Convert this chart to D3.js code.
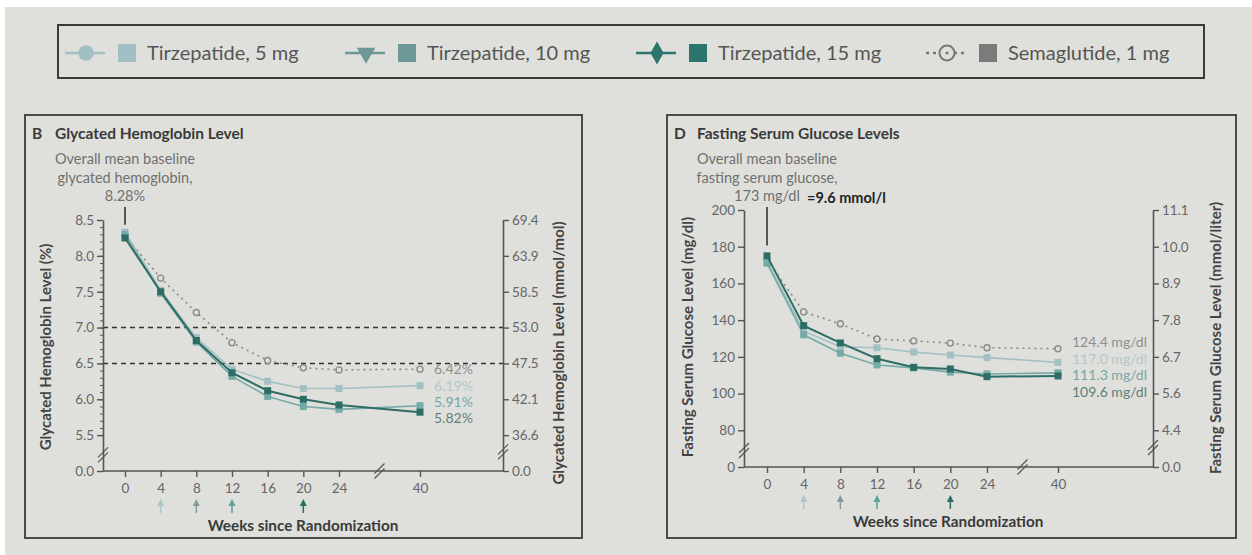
<!DOCTYPE html>
<meta charset="utf-8">
<script src="https://d3js.org/d3.v7.min.js"></script>
<style>
  body { margin: 0; background: #fff; }
  svg text { font-family: Lato, "Open Sans", sans-serif; }
</style>
<body>
<div id="chart"></div>
<script>

// ---- data ----
var weeks = [0, 4, 8, 12, 16, 20, 24, 40];
var seriesNames = ["Tirzepatide, 5 mg", "Tirzepatide, 10 mg", "Tirzepatide, 15 mg", "Semaglutide, 1 mg"];

// glycated hemoglobin (%)
var hba1c5mg  = [8.33, 7.52, 6.86, 6.42, 6.25, 6.15, 6.15, 6.19];
var hba1c10mg = [8.30, 7.48, 6.80, 6.32, 6.04, 5.90, 5.86, 5.91];
var hba1c15mg = [8.25, 7.50, 6.82, 6.37, 6.12, 6.00, 5.92, 5.82];
var hba1cSema = [8.28, 7.69, 7.21, 6.79, 6.54, 6.44, 6.41, 6.42];
var hba1cEndLabels = ["6.19%", "5.91%", "5.82%", "6.42%"];
var hba1cTicks = [5.0, 5.5, 6.0, 6.5, 7.0, 7.5, 8.0, 8.5];
var hba1cTickLabels = ["0.0", "5.5", "6.0", "6.5", "7.0", "7.5", "8.0", "8.5"];
var hba1cMmolLabels = ["0.0", "36.6", "42.1", "47.5", "53.0", "58.5", "63.9", "69.4"];
var hba1cTargets = [7.0, 6.5];

// fasting serum glucose (mg/dl)
var fsg5mg  = [172, 134, 125.5, 125, 122.6, 121, 119.6, 117.0];
var fsg10mg = [171, 132, 122, 115.6, 114, 111.7, 110.7, 111.3];
var fsg15mg = [175, 137, 127.6, 119, 114.3, 113.4, 109.2, 109.6];
var fsgSema = [173, 144.5, 138, 129.7, 128.7, 127.5, 125, 124.4];
var fsgEndLabels = ["117.0 mg/dl", "111.3 mg/dl", "109.6 mg/dl", "124.4 mg/dl"];
var fsgTicks = [60, 80, 100, 120, 140, 160, 180, 200];
var fsgTickLabels = ["0", "80", "100", "120", "140", "160", "180", "200"];
var fsgMmolLabels = ["0.0", "4.4", "5.6", "6.7", "7.8", "8.9", "10.0", "11.1"];

var escalationWeeks = [4, 8, 12, 20];

// ---- styles ----
var bg = "#dfe0dc";
var legendColors = ["#a2c0c4", "#6e9898", "#2c756f", "#7b7b7b"];
var lineColors = ["#a3c1c3", "#74aaa7", "#2e6d66", "#8a8a8a"];
var labelColors = ["#b4c8c9", "#78a6a5", "#5f7f7c", "#8e8e8e"];
var arrowColors = ["#a9c6c8", "#7f9d9c", "#5aa39b", "#2b6d66"];
var axisColor = "#555";
var textColor = "#666";

var svg = d3.select("#chart").append("svg")
  .attr("width", 1252)
  .attr("height", 555);

svg.append("rect")
  .attr("x", 5).attr("y", 7)
  .attr("width", 1247).attr("height", 548)
  .attr("fill", bg);

// ---- legend ----
svg.append("rect")
  .attr("x", 58).attr("y", 25)
  .attr("width", 1146).attr("height", 53)
  .attr("fill", "none")
  .attr("stroke", "#3a3a3a")
  .attr("stroke-width", 2);

var legendX = [65, 345, 636, 926];
var legendY = 53;
var legendSymbols = [d3.symbolCircle, d3.symbolTriangle, d3.symbolDiamond, null];

seriesNames.forEach(function(name, i) {
  var lg = svg.append("g").attr("transform", "translate(" + legendX[i] + "," + legendY + ")");
  lg.append("line")
    .attr("x1", 0).attr("x2", 40)
    .attr("stroke", i === 3 ? "#777" : legendColors[i])
    .attr("stroke-width", 2.5)
    .attr("stroke-dasharray", i === 3 ? "3,4" : null);
  if (i === 3) {
    lg.append("circle").attr("cx", 21).attr("r", 7.5)
      .attr("fill", bg).attr("stroke", "#777").attr("stroke-width", 2);
    lg.append("circle").attr("cx", 21).attr("r", 1.6).attr("fill", "#777");
  } else {
    var sz = i === 0 ? 190 : 150;
    lg.append("path")
      .attr("d", d3.symbol().type(legendSymbols[i]).size(sz))
      .attr("transform", "translate(21,0)" + (i === 1 ? " rotate(180)" : ""))
      .attr("fill", legendColors[i]);
  }
  lg.append("rect")
    .attr("x", 53).attr("y", -9)
    .attr("width", 18).attr("height", 18)
    .attr("fill", legendColors[i]);
  lg.append("text")
    .attr("x", 82).attr("y", 7)
    .attr("font-size", 20)
    .attr("fill", "#555")
    .text(name);
});

// ---- panel drawing ----
function breakMark(g, cx, cy) {
  [-2.5, 2.5].forEach(function(o) {
    g.append("line")
      .attr("x1", cx - 5).attr("y1", cy + 5 + o)
      .attr("x2", cx + 5).attr("y2", cy - 5 + o)
      .attr("stroke", axisColor).attr("stroke-width", 1.3);
  });
}

function styleAxis(a) {
  a.select(".domain").attr("stroke", axisColor).attr("stroke-width", 1.6);
  a.selectAll(".tick line").attr("stroke", axisColor).attr("stroke-width", 1.4);
  a.selectAll(".tick text").attr("fill", textColor).attr("font-size", 13.5)
    .style("font-family", "Lato, 'Open Sans', sans-serif");
}

function drawPanel(p) {
  var g = svg.append("g");

  g.append("rect")
    .attr("x", p.box[0]).attr("y", p.box[1])
    .attr("width", p.box[2] - p.box[0]).attr("height", p.box[3] - p.box[1])
    .attr("fill", "none").attr("stroke", "#4a4a4a").attr("stroke-width", 2);

  g.append("text").attr("x", p.box[0] + 7).attr("y", 139)
    .attr("font-size", 15.5).attr("font-weight", "bold").attr("fill", "#3a3a3a")
    .text(p.letter);
  g.append("text").attr("x", p.box[0] + 30).attr("y", 139)
    .attr("font-size", 15.5).attr("font-weight", "bold").attr("fill", "#3a3a3a")
    .text(p.title);

  var x = d3.scaleLinear().domain([0, 24, 40]).range(p.xRange);
  var y = d3.scaleLinear().domain([p.yTicks[0], p.yTicks[p.yTicks.length - 1]]).range(p.yRange);
  var yBottom = p.yRange[0];

  // target lines
  (p.targets || []).forEach(function(t) {
    g.append("line")
      .attr("x1", p.axisL).attr("x2", p.axisR)
      .attr("y1", y(t)).attr("y2", y(t))
      .attr("stroke", "#333").attr("stroke-width", 1.5)
      .attr("stroke-dasharray", "5,4");
  });

  // left axis
  if (p.minor) {
    var minorTicks = d3.range(p.yTicks[1], p.yTicks[p.yTicks.length - 1] + 0.001, p.minor);
    g.append("g")
      .attr("transform", "translate(" + p.axisL + ",0)")
      .call(d3.axisLeft(y).tickValues(minorTicks).tickSize(3).tickFormat(""))
      .call(function(a) {
        a.select(".domain").remove();
        a.selectAll(".tick line").attr("stroke", axisColor).attr("stroke-width", 1);
      });
  }
  g.append("g")
    .attr("transform", "translate(" + p.axisL + ",0)")
    .call(d3.axisLeft(y).tickValues(p.yTicks).tickSize(6).tickSizeOuter(0)
      .tickFormat(function(d, i) { return p.yTickLabels[i]; }))
    .call(styleAxis);

  // right axis
  g.append("g")
    .attr("transform", "translate(" + p.axisR + ",0)")
    .call(d3.axisRight(y).tickValues(p.yTicks).tickSize(6).tickSizeOuter(0)
      .tickFormat(function(d, i) { return p.yMmolLabels[i]; }))
    .call(styleAxis);

  // x axis
  g.append("line")
    .attr("x1", p.axisL).attr("x2", p.axisR)
    .attr("y1", yBottom).attr("y2", yBottom)
    .attr("stroke", axisColor).attr("stroke-width", 1.6);
  g.append("g")
    .attr("transform", "translate(0," + yBottom + ")")
    .call(d3.axisBottom(x).tickValues(weeks).tickSize(6).tickPadding(6).tickFormat(d3.format("d")))
    .call(styleAxis)
    .call(function(a) { a.select(".domain").remove(); });

  // axis breaks
  var yBreak = y(p.yTicks[0] + (p.yTicks[1] - p.yTicks[0]) * 0.45);
  breakMark(g, p.axisL, yBreak);
  breakMark(g, p.axisR, yBreak - 3);
  breakMark(g, x(32), yBottom);

  // dose-escalation arrows
  escalationWeeks.forEach(function(w, i) {
    var ax = x(w);
    g.append("line")
      .attr("x1", ax).attr("x2", ax)
      .attr("y1", yBottom + 42).attr("y2", yBottom + 32)
      .attr("stroke", arrowColors[i]).attr("stroke-width", 1.5);
    g.append("path")
      .attr("d", "M" + (ax - 3.5) + "," + (yBottom + 35) + "L" + ax + "," + (yBottom + 28) + "L" + (ax + 3.5) + "," + (yBottom + 35) + "Z")
      .attr("fill", arrowColors[i]);
  });

  g.append("text")
    .attr("x", p.xTitleX).attr("y", yBottom + 60)
    .attr("text-anchor", "middle")
    .attr("font-size", 15.3).attr("font-weight", "bold").attr("fill", "#3a3a3a")
    .text("Weeks since Randomization");

  // axis titles
  [[p.yTitleL, p.yTitle], [p.yTitleR, p.yTitleMmol]].forEach(function(t) {
    g.append("text")
      .attr("transform", "translate(" + t[0][0] + "," + t[0][1] + ") rotate(-90)")
      .attr("dy", "0.35em")
      .attr("text-anchor", "middle")
      .attr("font-size", 15).attr("font-weight", "bold").attr("fill", "#444")
      .text(t[1]);
  });

  // baseline annotation
  var x0 = x(0);
  p.note.forEach(function(line, i) {
    g.append("text")
      .attr("x", x0).attr("y", 164 + i * 18.5)
      .attr("text-anchor", "middle")
      .attr("font-size", 14.5).attr("fill", "#707070")
      .text(line);
  });
  if (p.noteExtra) {
    g.append("text")
      .attr("x", x0 + 40).attr("y", 203)
      .attr("font-size", 14.5).attr("font-weight", "bold").attr("fill", "#222")
      .text(p.noteExtra);
  }
  g.append("line")
    .attr("x1", x0).attr("x2", x0)
    .attr("y1", 207).attr("y2", y(p.baseline) - p.markGap)
    .attr("stroke", "#333").attr("stroke-width", 1.6);

  // series
  var line = d3.line()
    .x(function(d, i) { return x(weeks[i]); })
    .y(function(d) { return y(d); });

  [3, 0, 1, 2].forEach(function(s) {
    var vals = p.series[s];
    g.append("path")
      .datum(vals)
      .attr("d", line)
      .attr("fill", "none")
      .attr("stroke", lineColors[s])
      .attr("stroke-width", s === 2 ? 2 : 1.6)
      .attr("stroke-dasharray", s === 3 ? "2,4" : null);
    if (s === 3) {
      g.selectAll(null).data(vals).enter().append("circle")
        .attr("cx", function(d, i) { return x(weeks[i]); })
        .attr("cy", function(d) { return y(d); })
        .attr("r", 3)
        .attr("fill", bg).attr("stroke", "#8a8a8a").attr("stroke-width", 1.4);
    } else {
      g.selectAll(null).data(vals).enter().append("rect")
        .attr("x", function(d, i) { return x(weeks[i]) - 3.5; })
        .attr("y", function(d) { return y(d) - 3.5; })
        .attr("width", 7).attr("height", 7)
        .attr("fill", lineColors[s]);
    }
  });

  // end labels
  p.endLabels.forEach(function(lab, s) {
    var v = p.series[s][p.series[s].length - 1];
    g.append("text")
      .attr("x", x(40) + 14)
      .attr("y", y(v) + p.labelNudge[s])
      .attr("dy", "0.35em")
      .attr("font-size", 14).attr("fill", labelColors[s])
      .text(lab);
  });
}

drawPanel({
  letter: "B",
  title: "Glycated Hemoglobin Level",
  box: [25, 115, 582, 538],
  axisL: 103, axisR: 503,
  xRange: [125, 339, 420],
  yRange: [471, 220],
  yTicks: hba1cTicks,
  yTickLabels: hba1cTickLabels,
  yMmolLabels: hba1cMmolLabels,
  minor: 0.1,
  targets: hba1cTargets,
  xTitleX: 303,
  yTitle: "Glycated Hemoglobin Level (%)",
  yTitleMmol: "Glycated Hemoglobin Level (mmol/mol)",
  yTitleL: [46, 347], yTitleR: [559, 353],
  note: ["Overall mean baseline", "glycated hemoglobin,", "8.28%"],
  baseline: 8.28, markGap: 11,
  series: [hba1c5mg, hba1c10mg, hba1c15mg, hba1cSema],
  endLabels: hba1cEndLabels,
  labelNudge: [0, -4, 6, 0]
});

drawPanel({
  letter: "D",
  title: "Fasting Serum Glucose Levels",
  box: [667, 115, 1236, 538],
  axisL: 744, axisR: 1153,
  xRange: [767, 987, 1058],
  yRange: [467, 210],
  yTicks: fsgTicks,
  yTickLabels: fsgTickLabels,
  yMmolLabels: fsgMmolLabels,
  minor: null,
  targets: [],
  xTitleX: 948,
  yTitle: "Fasting Serum Glucose Level (mg/dl)",
  yTitleMmol: "Fasting Serum Glucose Level (mmol/liter)",
  yTitleL: [688, 337], yTitleR: [1216, 338],
  note: ["Overall mean baseline", "fasting serum glucose,", "173 mg/dl"],
  noteExtra: "=9.6 mmol/l",
  baseline: 173, markGap: 14,
  series: [fsg5mg, fsg10mg, fsg15mg, fsgSema],
  endLabels: fsgEndLabels,
  labelNudge: [-3, 2, 16, -7]
});

</script>
</body>
